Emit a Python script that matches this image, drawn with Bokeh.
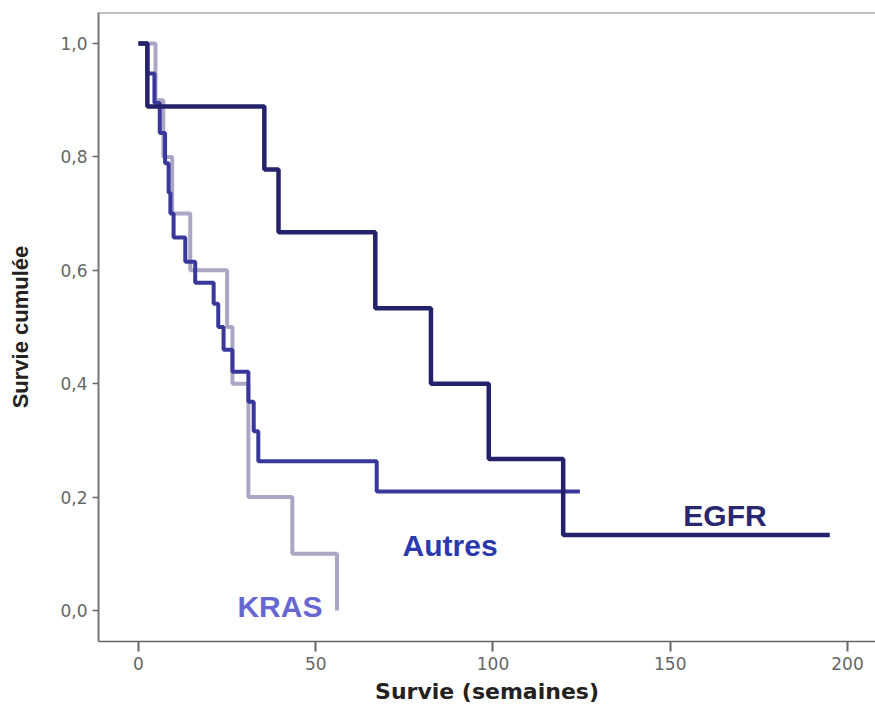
from bokeh.plotting import figure
from bokeh.models import Range1d, FixedTicker, Label, Span
from bokeh.embed import file_html
from bokeh.resources import INLINE

# ---- data ----
egfr_weeks = [0, 2.5, 35.5, 39.5, 66.8, 82.5, 98.8, 119.8, 195.0]
egfr_surv = [1.0, 0.889, 0.778, 0.667, 0.533, 0.400, 0.267, 0.133, 0.133]

autres_weeks = [0, 2.5, 4.5, 6.0, 7.5, 8.5, 9.0, 9.9, 13.2, 16.0, 21.2, 22.5, 24.0,
                26.5, 31.0, 32.5, 33.8, 67.2, 124.5]
autres_surv = [1.0, 0.947, 0.895, 0.842, 0.789, 0.737, 0.70, 0.658, 0.615, 0.578, 0.541,
               0.50, 0.46, 0.421, 0.368, 0.316, 0.263, 0.21, 0.21]

kras_weeks = [0, 4.8, 7.0, 9.5, 14.6, 25.0, 26.5, 31.0, 43.4, 56.0]
kras_surv = [1.0, 0.9, 0.8, 0.7, 0.6, 0.5, 0.4, 0.2, 0.1, 0.0]

x_ticks = [0, 50, 100, 150, 200]
x_tick_labels = ["0", "50", "100", "150", "200"]
y_ticks = [0.0, 0.2, 0.4, 0.6, 0.8, 1.0]
y_tick_labels = ["0,0", "0,2", "0,4", "0,6", "0,8", "1,0"]

series_names = ["EGFR", "Autres", "KRAS"]

# ---- figure ----
x_start, x_end = -11.28, 207.9
y_start, y_end = -0.0547, 1.0547

p = figure(width=875, height=714, output_backend="svg", toolbar_location=None,
           x_range=Range1d(x_start, x_end), y_range=Range1d(y_start, y_end),
           min_border_left=98, min_border_right=0, min_border_top=12,
           min_border_bottom=73)
p.background_fill_color = "white"
p.border_fill_color = "white"
p.outline_line_color = None
p.grid.visible = False

# steps
p.step(kras_weeks, kras_surv, mode="after", line_color="#aaa6c4", line_width=4)
p.step(autres_weeks, autres_surv, mode="after", line_color="#38389c", line_width=4)
p.step(egfr_weeks, egfr_surv, mode="after", line_color="#25226c", line_width=4.5)

# top border
p.add_layout(Span(location=y_end, dimension="width", line_color="#808080", line_width=2))

# axes
ax = p.xaxis[0]
ax.ticker = FixedTicker(ticks=x_ticks)
ax.major_label_overrides = {t: l for t, l in zip(x_ticks, x_tick_labels)}
ax.minor_tick_line_color = None
ax.major_tick_in = 0
ax.major_tick_out = 10
ax.major_tick_line_color = "#666666"
ax.major_tick_line_width = 2
ax.axis_line_color = "#666666"
ax.axis_line_width = 1.5
ax.major_label_text_font = "DejaVu Sans"
ax.major_label_text_font_size = "17px"
ax.major_label_text_color = "#666666"
ax.major_label_standoff = 5
ax.axis_label = "Survie (semaines)"
ax.axis_label_text_font = "DejaVu Sans"
ax.axis_label_text_font_style = "bold"
ax.axis_label_text_font_size = "22px"
ax.axis_label_text_color = "#222222"
ax.axis_label_standoff = 6

ay = p.yaxis[0]
ay.ticker = FixedTicker(ticks=y_ticks)
ay.major_label_overrides = {t: l for t, l in zip(y_ticks, y_tick_labels)}
ay.minor_tick_line_color = None
ay.major_tick_in = 0
ay.major_tick_out = 6
ay.major_tick_line_color = "#666666"
ay.major_tick_line_width = 1.5
ay.axis_line_color = "#777777"
ay.axis_line_width = 2
ay.major_label_text_font = "DejaVu Sans"
ay.major_label_text_font_size = "17px"
ay.major_label_text_color = "#666666"
ay.major_label_standoff = 5
ay.axis_label = "Survie cumulée"
ay.axis_label_text_font = "Liberation Sans"
ay.axis_label_text_font_style = "bold"
ay.axis_label_text_font_size = "22px"
ay.axis_label_text_color = "#222222"
ay.axis_label_standoff = 24

# group labels
label_x = [153.7, 74.5, 27.9]
label_y = [0.168, 0.114, 0.007]
label_colors = ["#29276f", "#2a3aae", "#6767d2"]
for name, lx, ly, c in zip(series_names, label_x, label_y, label_colors):
    p.add_layout(Label(x=lx, y=ly, text=name, text_font="Liberation Sans",
                       text_font_style="bold", text_font_size="30px",
                       text_color=c, text_baseline="alphabetic", text_align="left"))

open("out.html", "w").write(file_html(p, INLINE))
